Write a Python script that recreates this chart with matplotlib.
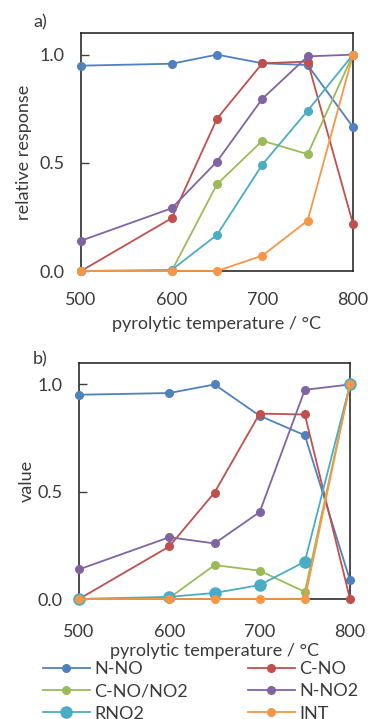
import numpy as np
import matplotlib
matplotlib.use("Agg")
import matplotlib.pyplot as plt

plt.rcParams['font.family'] = ['Lato', 'DejaVu Sans']

temps = [500, 600, 650, 700, 750, 800]
names = ['N-NO', 'C-NO', 'C-NO/NO2', 'N-NO2', 'RNO2', 'INT']
colors = ['#4f81bd', '#c0504d', '#9bbb59', '#8064a2', '#4bacc6', '#f79646']

# panel a) relative response
resp_a = {
    'N-NO':     [0.949, 0.958, 1.0, 0.96, 0.952, 0.665],
    'C-NO':     [0.0, 0.244, 0.704, 0.96, 0.968, 0.218],
    'C-NO/NO2': [0.0, 0.0, 0.401, 0.602, 0.54, 1.0],
    'N-NO2':    [0.14, 0.29, 0.506, 0.796, 0.992, 1.0],
    'RNO2':     [0.0, 0.005, 0.167, 0.492, 0.741, 1.0],
    'INT':      [0.0, 0.0, 0.0, 0.071, 0.233, 1.0],
}
# panel b) value
resp_b = {
    'N-NO':     [0.952, 0.96, 1.0, 0.854, 0.763, 0.087],
    'C-NO':     [0.0, 0.245, 0.496, 0.864, 0.86, 0.0],
    'C-NO/NO2': [0.0, 0.005, 0.158, 0.132, 0.033, 1.0],
    'N-NO2':    [0.138, 0.288, 0.259, 0.405, 0.975, 1.0],
    'RNO2':     [0.0, 0.01, 0.028, 0.065, 0.174, 1.0],
    'INT':      [0.0, 0.0, 0.0, 0.0, 0.0, 1.0],
}

txt = '#3a3a3a'
fs = 13

fig = plt.figure(figsize=(3.68, 7.19), dpi=100)
ax1 = fig.add_axes([81/368, 1-271/719, 272/368, 238/719])
ax2 = fig.add_axes([79/368, 1-599/719, 271/368, 236/719])

def style(ax, ylabel, xpad, xlpad, ypad):
    ax.set_xlim(500, 800)
    ax.set_ylim(0, 1.1)
    ax.set_xticks([500, 600, 700, 800])
    ax.set_yticks([0.0, 0.5, 1.0])
    ax.set_yticklabels(['0.0', '0.5', '1.0'])
    ax.tick_params(axis='y', direction='in', length=6, width=1, color='#404040',
                   pad=12, labelsize=fs, labelcolor=txt)
    ax.tick_params(axis='x', length=0, pad=xpad, labelsize=fs, labelcolor=txt)
    for s in ax.spines.values():
        s.set_color('#1a1a1a')
        s.set_linewidth(1.1)
    ax.set_xlabel('pyrolytic temperature / \u00b0C', fontsize=fs, color=txt, labelpad=xlpad)
    ax.set_ylabel(ylabel, fontsize=fs, color=txt, labelpad=ypad)

handles = []
for ax, data in [(ax1, resp_a), (ax2, resp_b)]:
    for n, c in zip(names, colors):
        ms = 5.5
        if ax is ax2 and n == 'RNO2':
            ms = 8
        l, = ax.plot(temps, data[n], color=c, lw=1.3, marker='o', ms=ms,
                     clip_on=False, zorder=3)
        if ax is ax2:
            handles.append(l)

style(ax1, 'relative response', 15, 6, 5)
style(ax2, 'value', 18, 2, 1.5)

fig.text(33/368, 1-22/719, 'a)', fontsize=fs, color=txt, va='center')
fig.text(33/368, 1-359/719, 'b)', fontsize=fs, color=txt, va='center')

order = [0, 2, 4, 1, 3, 5]
fig.legend([handles[i] for i in order], [names[i] for i in order],
           ncol=2, loc='upper left', bbox_to_anchor=(43/368, 1-661/719),
           frameon=False, fontsize=fs, handlelength=2.6, handletextpad=0.25,
           columnspacing=3.3, labelspacing=0.35, borderpad=0, borderaxespad=0,
           labelcolor=txt)

fig.savefig('out.png', dpi=100)
